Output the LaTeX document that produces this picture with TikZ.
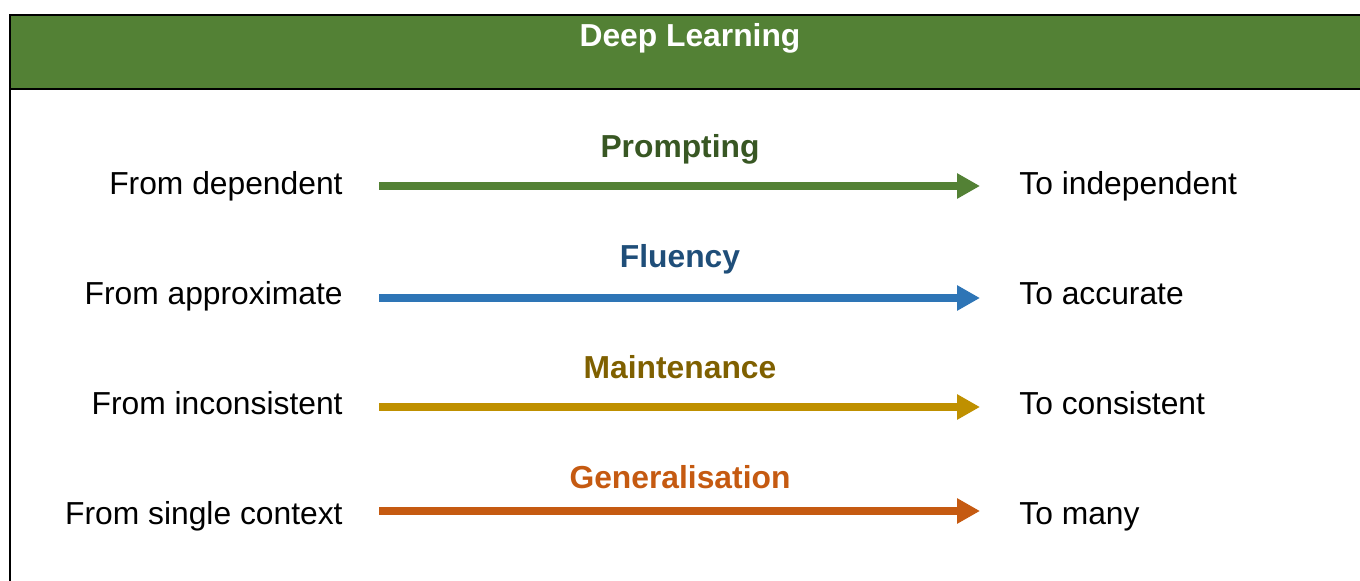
\documentclass[tikz,border=0pt]{standalone}
\usepackage{fontspec}
\setmainfont{Liberation Sans}
\usetikzlibrary{arrows.meta}
\definecolor{hdrgreen}{HTML}{538135}
\definecolor{promptc}{HTML}{385723}
\definecolor{fluenc}{HTML}{1F4E79}
\definecolor{fluarr}{HTML}{2E75B6}
\definecolor{maintc}{HTML}{7F6000}
\definecolor{maintarr}{HTML}{BF9000}
\definecolor{genc}{HTML}{C55A11}
\tikzset{
  txt/.style={inner sep=0pt, font=\fontsize{15.9}{18}\selectfont},
  fromtxt/.style={txt, anchor=base east},
  totxt/.style={txt, anchor=base west},
  title/.style={txt, anchor=base, font=\fontsize{15.9}{18}\selectfont\bfseries},
  bigarrow/.style={line width=4.2pt, -{Triangle[length=11.5pt,width=12pt]}},
  frame/.style={draw=black, line width=1pt}
}
\begin{document}
\begin{tikzpicture}[x=0.5pt,y=-0.5pt]
\useasboundingbox (0,0) rectangle (1360,581);
\clip (0,0) rectangle (1360,581);
% frame and header
\fill[hdrgreen] (10,15) rectangle (1370,89);
\draw[frame] (10,620) -- (10,15) -- (1370,15);
\draw[frame] (10,89) -- (1370,89);
\node[title, text=white] (hdr) at (690,47) {Deep Learning};
% row 1
\node[title, text=promptc] (t1) at (680,158) {Prompting};
\node[fromtxt] (f1) at (343,195) {From dependent};
\node[totxt] (e1) at (1019,195) {To independent};
\coordinate (a1s) at (379,186);
\coordinate (a1e) at (980,186);
\draw[bigarrow, hdrgreen] (a1s) -- (a1e);
% row 2
\node[title, text=fluenc] (t2) at (680,268) {Fluency};
\node[fromtxt] (f2) at (343,305) {From approximate};
\node[totxt] (e2) at (1019,305) {To accurate};
\coordinate (a2s) at (379,298);
\coordinate (a2e) at (980,298);
\draw[bigarrow, fluarr] (a2s) -- (a2e);
% row 3
\node[title, text=maintc] (t3) at (680,379) {Maintenance};
\node[fromtxt] (f3) at (343,415) {From inconsistent};
\node[totxt] (e3) at (1019,415) {To consistent};
\coordinate (a3s) at (379,407);
\coordinate (a3e) at (980,407);
\draw[bigarrow, maintarr] (a3s) -- (a3e);
% row 4
\node[title, text=genc] (t4) at (680,489) {Generalisation};
\node[fromtxt] (f4) at (343,525) {From single context};
\node[totxt] (e4) at (1019,525) {To many};
\coordinate (a4s) at (379,511);
\coordinate (a4e) at (980,511);
\draw[bigarrow, genc] (a4s) -- (a4e);
\end{tikzpicture}
\end{document}
